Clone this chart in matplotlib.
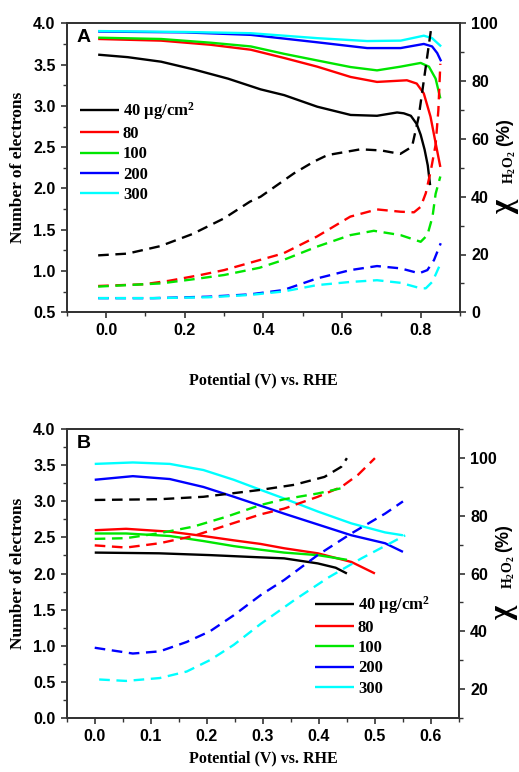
import matplotlib
matplotlib.use("Agg")
import matplotlib.pyplot as plt
from matplotlib.ticker import MultipleLocator, FormatStrFormatter

# ---------------- DATA: panel A ----------------
labels = ["40 \u03bcg/cm$^{\\mathregular{2}}$", "80", "100", "200", "300"]
colors = ["#000000", "#ff0000", "#00e600", "#0000ff", "#00ffff"]

# solid lines: number of electrons (left axis)
A_n_x = [
    [-0.02, 0.055, 0.14, 0.224, 0.31, 0.393, 0.453, 0.537, 0.622, 0.689, 0.74, 0.757, 0.775, 0.79, 0.80, 0.81, 0.818, 0.824],
    [-0.02, 0.14, 0.266, 0.368, 0.453, 0.537, 0.622, 0.689, 0.765, 0.79, 0.808, 0.825, 0.838, 0.85],
    [-0.02, 0.14, 0.266, 0.368, 0.453, 0.537, 0.622, 0.689, 0.749, 0.80, 0.821, 0.838, 0.85],
    [-0.02, 0.2, 0.368, 0.537, 0.664, 0.749, 0.808, 0.829, 0.842, 0.852],
    [-0.02, 0.2, 0.368, 0.537, 0.664, 0.749, 0.808, 0.829, 0.852],
]
A_n_y = [
    [3.62, 3.59, 3.535, 3.44, 3.33, 3.20, 3.13, 2.99, 2.89, 2.88, 2.92, 2.91, 2.88, 2.78, 2.65, 2.47, 2.28, 2.04],
    [3.81, 3.79, 3.74, 3.68, 3.58, 3.475, 3.35, 3.29, 3.31, 3.27, 3.15, 2.87, 2.55, 2.26],
    [3.826, 3.81, 3.765, 3.72, 3.63, 3.55, 3.47, 3.43, 3.475, 3.52, 3.475, 3.33, 3.09],
    [3.90, 3.89, 3.86, 3.77, 3.70, 3.70, 3.75, 3.72, 3.64, 3.54],
    [3.906, 3.895, 3.88, 3.82, 3.785, 3.79, 3.85, 3.82, 3.72],
]
# dashed lines: H2O2 yield % (right axis)
A_p_x = [
    [-0.02, 0.054, 0.138, 0.22, 0.30, 0.366, 0.393, 0.478, 0.528, 0.563, 0.647, 0.70, 0.748, 0.778, 0.795, 0.813, 0.828],
    [-0.02, 0.096, 0.16, 0.24, 0.30, 0.36, 0.451, 0.536, 0.621, 0.689, 0.749, 0.783, 0.80, 0.813, 0.826, 0.838, 0.845, 0.85],
    [-0.02, 0.14, 0.22, 0.30, 0.39, 0.451, 0.536, 0.621, 0.681, 0.749, 0.80, 0.817, 0.83, 0.838, 0.85],
    [-0.02, 0.12, 0.26, 0.366, 0.451, 0.536, 0.621, 0.689, 0.749, 0.796, 0.817, 0.834, 0.851],
    [-0.02, 0.12, 0.26, 0.366, 0.451, 0.536, 0.621, 0.689, 0.749, 0.80, 0.813, 0.83, 0.847],
]
A_p_y = [
    [19.7, 20.3, 22.9, 27.1, 32.5, 38.3, 40.0, 48.1, 52.1, 54.4, 56.4, 56.0, 54.8, 57.3, 67.7, 85.0, 99.5],
    [9.1, 9.7, 10.9, 12.9, 14.6, 16.9, 20.4, 26.2, 33.1, 35.6, 34.8, 34.6, 36.5, 41.2, 49.2, 58.0, 70.0, 86.0],
    [8.9, 10.0, 11.4, 12.9, 15.4, 18.1, 22.7, 26.7, 28.2, 26.7, 24.4, 26.7, 33.0, 41.0, 47.0],
    [4.9, 4.9, 5.4, 6.2, 7.7, 11.7, 14.6, 16.0, 15.2, 13.5, 14.6, 18.1, 23.9],
    [4.9, 4.9, 5.2, 6.0, 7.2, 9.4, 10.5, 11.1, 10.2, 8.3, 8.3, 10.6, 15.8],
]

# ---------------- DATA: panel B ----------------
B_n_x = [
    [0.0, 0.115, 0.206, 0.278, 0.338, 0.398, 0.43, 0.45],
    [0.0, 0.056, 0.134, 0.194, 0.248, 0.296, 0.338, 0.398, 0.458, 0.50],
    [0.0, 0.056, 0.134, 0.194, 0.248, 0.296, 0.338, 0.398, 0.45],
    [0.0, 0.068, 0.134, 0.194, 0.248, 0.296, 0.338, 0.398, 0.458, 0.518, 0.55],
    [0.0, 0.068, 0.134, 0.194, 0.248, 0.296, 0.338, 0.398, 0.458, 0.518, 0.55],
]
B_n_y = [
    [2.29, 2.28, 2.255, 2.23, 2.21, 2.14, 2.08, 2.00],
    [2.60, 2.62, 2.58, 2.52, 2.46, 2.41, 2.35, 2.28, 2.16, 2.00],
    [2.555, 2.555, 2.52, 2.45, 2.38, 2.33, 2.29, 2.255, 2.19],
    [3.30, 3.35, 3.31, 3.20, 3.065, 2.94, 2.83, 2.68, 2.53, 2.42, 2.30],
    [3.52, 3.54, 3.52, 3.435, 3.30, 3.16, 3.04, 2.86, 2.695, 2.57, 2.53],
]
B_p_x = [
    [0.0, 0.115, 0.194, 0.254, 0.296, 0.356, 0.41, 0.44, 0.45],
    [0.0, 0.056, 0.116, 0.176, 0.236, 0.296, 0.338, 0.398, 0.44, 0.47, 0.50],
    [0.0, 0.056, 0.116, 0.176, 0.236, 0.296, 0.338, 0.398, 0.45],
    [0.0, 0.068, 0.116, 0.164, 0.206, 0.248, 0.296, 0.338, 0.398, 0.458, 0.518, 0.55],
    [0.008, 0.056, 0.116, 0.164, 0.206, 0.248, 0.296, 0.356, 0.416, 0.476, 0.554],
]
B_p_y = [
    [85.5, 85.75, 86.6, 88.0, 89.0, 90.75, 93.5, 97.0, 100.0],
    [69.75, 69.0, 70.5, 73.0, 76.75, 80.5, 82.5, 86.6, 90.0, 94.25, 100.0],
    [72.0, 72.25, 74.0, 76.25, 79.75, 83.75, 85.75, 87.75, 90.0],
    [34.25, 32.25, 33.0, 36.25, 40.0, 45.5, 52.5, 57.75, 66.4, 73.9, 80.75, 85.0],
    [23.25, 22.75, 23.75, 26.0, 30.0, 35.25, 42.5, 50.75, 58.5, 65.25, 73.25],
]

# ---------------- STYLE ----------------
SANS = "Liberation Sans"
SERIF = "Liberation Serif"
plt.rcParams["font.family"] = [SANS, "DejaVu Sans"]
plt.rcParams["font.weight"] = "bold"
plt.rcParams["mathtext.fontset"] = "custom"
plt.rcParams["mathtext.rm"] = "Liberation Serif:bold"
plt.rcParams["mathtext.it"] = "Liberation Serif:bold"
plt.rcParams["mathtext.bf"] = "Liberation Serif:bold"

W, H = 519, 772
fig = plt.figure(figsize=(W / 100, H / 100), dpi=100)

LW = 1.7
DASH = (4.5, 2.8)
spine_color = "#333333"


def style_axes(ax, ax2):
    for a in (ax, ax2):
        for s in a.spines.values():
            s.set_color(spine_color)
            s.set_linewidth(1.3)
    ax.tick_params(axis="both", which="major", direction="out", length=4.5, width=1.2,
                   labelsize=11.5, colors=spine_color, labelcolor="black", top=False)
    ax.tick_params(axis="both", which="minor", direction="out", length=2.8, width=1.0,
                   colors=spine_color, top=False)
    ax2.tick_params(axis="y", which="major", direction="out", length=4.5, width=1.2,
                    labelsize=11.5, colors=spine_color, labelcolor="black")
    ax2.tick_params(axis="y", which="minor", direction="out", length=2.8, width=1.0,
                    colors=spine_color)
    for lab in ax.get_xticklabels() + ax.get_yticklabels() + ax2.get_yticklabels():
        lab.set_fontweight("bold")
        lab.set_family(SANS)


def panel(rect, nx, ny, px, py, xlim, ylim, y2lim, xmaj, y2ticks, letter, leg_anchor):
    ax = fig.add_axes(rect)
    ax2 = ax.twinx()
    handles = []
    for i in range(5):
        h, = ax.plot(nx[i], ny[i], color=colors[i], lw=LW, solid_capstyle="butt")
        handles.append(h)
        ax2.plot(px[i], py[i], color=colors[i], lw=LW, dashes=DASH)
    ax.set_xlim(*xlim)
    ax.set_ylim(*ylim)
    ax2.set_ylim(*y2lim)
    ax.xaxis.set_major_locator(MultipleLocator(xmaj))
    ax.xaxis.set_minor_locator(MultipleLocator(xmaj / 2))
    ax.xaxis.set_major_formatter(FormatStrFormatter("%.1f"))
    ax.yaxis.set_major_locator(MultipleLocator(0.5))
    ax.yaxis.set_minor_locator(MultipleLocator(0.25))
    ax.yaxis.set_major_formatter(FormatStrFormatter("%.1f"))
    ax2.set_yticks(y2ticks)
    ax2.yaxis.set_minor_locator(MultipleLocator(10))
    style_axes(ax, ax2)
    ax.text(0.025, 0.95, letter, transform=ax.transAxes, fontsize=14, fontweight="bold",
            family=SANS, va="center", ha="left")
    ax.set_ylabel("Number of electrons", family=SERIF, fontweight="bold", fontsize=12.5, labelpad=5)
    ax.legend(handles, labels, loc="upper left", bbox_to_anchor=leg_anchor, frameon=False,
              prop={"family": SERIF, "weight": "bold", "size": 12},
              handlelength=2.3, handletextpad=0.25, labelspacing=0.25, borderaxespad=0)
    # right label: chi_H2O2 (%)
    ax.text(1.113, 0.34, "\u03c7", transform=ax.transAxes, rotation=90, fontsize=22,
            family=SERIF, fontweight="bold", ha="center", va="bottom")
    ax.text(1.128, 0.445, r"$\mathbf{H_2O_2}$", transform=ax.transAxes, rotation=90,
            fontsize=10, ha="center", va="bottom")
    ax.text(1.114, 0.575, "(%)", transform=ax.transAxes, rotation=90, fontsize=13,
            family=SANS, fontweight="bold", ha="center", va="bottom")
    return ax, ax2


axA, axA2 = panel([66.7 / W, 1 - 312.3 / H, 393.3 / W, 289.0 / H],
                  A_n_x, A_n_y, A_p_x, A_p_y,
                  (-0.1, 0.9), (0.5, 4.0), (0, 100), 0.2, [0, 20, 40, 60, 80, 100], "A",
                  (0.018, 0.757))
axB, axB2 = panel([66.7 / W, 1 - 717.7 / H, 392.3 / W, 288.4 / H],
                  B_n_x, B_n_y, B_p_x, B_p_y,
                  (-0.05, 0.65), (0.0, 4.0), (10, 110), 0.1, [20, 40, 60, 80, 100], "B",
                  (0.617, 0.452))

fig.text(263 / W, 1 - 380 / H, "Potential (V) vs. RHE", family=SERIF, fontweight="bold",
         fontsize=11.5, ha="center", va="center")
fig.text(263 / W, 1 - 758 / H, "Potential (V) vs. RHE", family=SERIF, fontweight="bold",
         fontsize=11.5, ha="center", va="center")

fig.savefig("out.png", dpi=100)
